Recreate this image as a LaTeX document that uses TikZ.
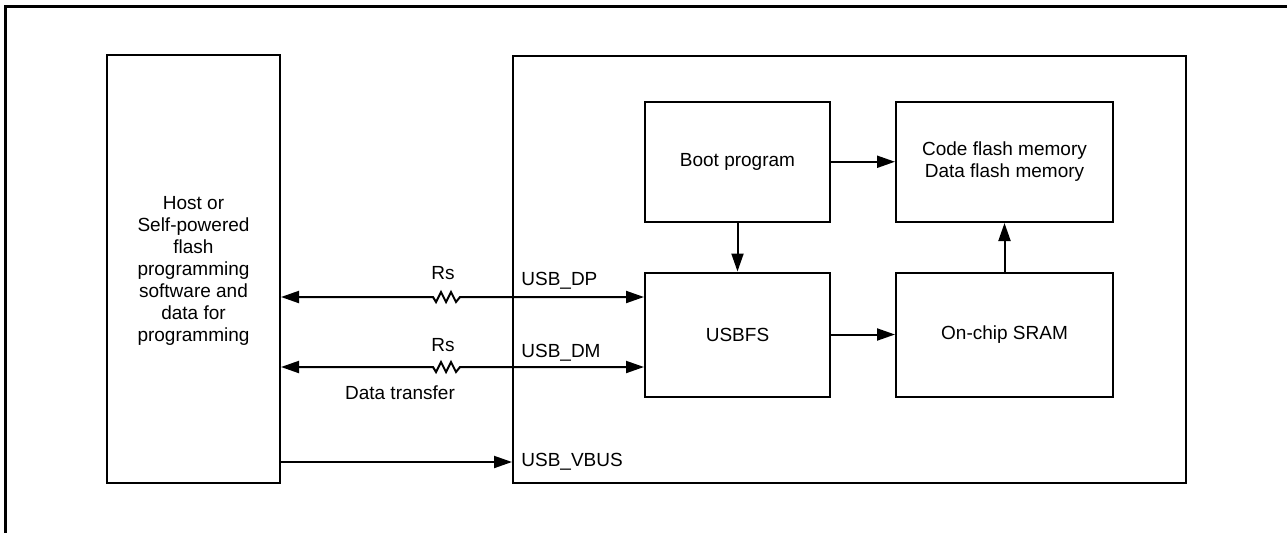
\documentclass[tikz,border=0pt]{standalone}
\usepackage{fontspec}
\setmainfont{Liberation Sans}
\usetikzlibrary{arrows.meta}
\tikzset{
  blk/.style={draw, line width=1pt, align=center, inner sep=2pt,
    font=\fontsize{9.5}{11}\selectfont},
  sig/.style={-{Triangle[length=9pt,width=6pt]}, line width=1pt},
  bisig/.style={{Triangle[length=9pt,width=6pt]}-{Triangle[length=9pt,width=6pt]}, line width=1pt},
  lbl/.style={font=\fontsize{9.5}{11}\selectfont, inner sep=1pt},
  rs/.style={insert path={-- ++(3,5) -- ++(5,-10) -- ++(5,10) -- ++(5,-10) -- ++(5,10) -- ++(4,-5)}},
}

\begin{document}
\begin{tikzpicture}[x=0.5pt, y=-0.5pt]
    \useasboundingbox (0,0) rectangle (1287,532);
    % outer frame (only top and left edges show)
    \draw[line width=1.6pt] (5.5,540) |- (1295,6.5);

    % blocks
    \node[blk, minimum width=86.5pt, minimum height=214pt, text depth=-5pt] (host) at (193.5,269)
      {Host or\\Self-powered\\flash\\programming\\software and\\data for\\programming};
    \node[blk, minimum width=336.5pt, minimum height=213.75pt] (chip) at (849.5,269.25) {};
    \node[blk, minimum width=92.5pt, minimum height=60.25pt] (boot) at (737.5,161.75) {Boot program};
    \node[blk, minimum width=108.5pt, minimum height=60.25pt] (code) at (1004.5,161.75)
      {Code flash memory\\Data flash memory};
    \node[blk, minimum width=92.5pt, minimum height=62pt] (usbfs) at (737.5,334.5) {USBFS};
    \node[blk, minimum width=108.5pt, minimum height=62pt] (sram) at (1004.5,334.5) {On-chip SRAM};

    % internal connections
    \draw[sig] (boot) -- (code);
    \draw[sig] (boot) -- (usbfs);
    \draw[sig] (usbfs) -- (sram);
    \draw[sig] (sram) -- (code);

    % USB lines with series resistors
    \coordinate (rdp) at (433,297);
    \coordinate (rdm) at (433,367);
    \coordinate (vbus) at (400,462);
    \draw[bisig] (host.east |- rdp) -- (rdp) [rs] -- (usbfs.west |- rdp);
    \draw[bisig] (host.east |- rdm) -- (rdm) [rs] -- (usbfs.west |- rdm);
    \draw[sig] (host.east |- vbus) -- (chip.west |- vbus);

    % labels
    \node[lbl] (rs1) at (443,273) {Rs};
    \node[lbl] (rs2) at (443,345) {Rs};
    \node[lbl, anchor=west] (dp) at (519,281) {USB\_DP};
    \node[lbl, anchor=west] (dm) at (519,353) {USB\_DM};
    \node[lbl, anchor=west] (vb) at (519,462) {USB\_VBUS};
    \node[lbl] (xfer) at (400,393) {Data transfer};
\end{tikzpicture}
\end{document}
